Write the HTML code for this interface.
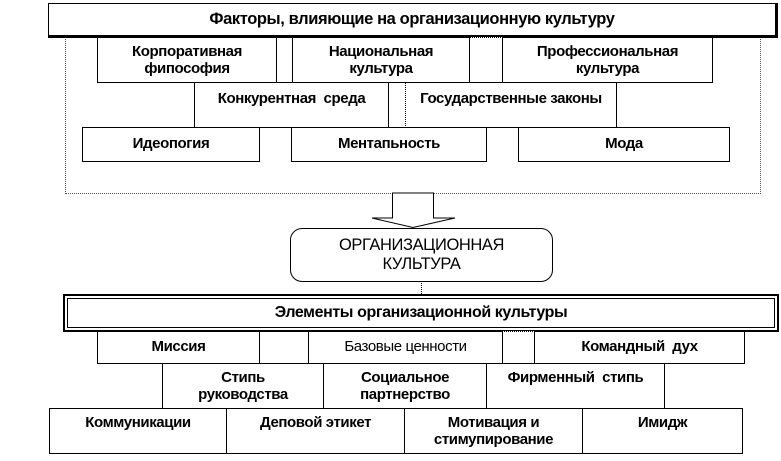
<!DOCTYPE html>
<html><head><meta charset="utf-8"><style>
html,body{margin:0;padding:0;background:#fff;}
body{width:781px;height:461px;position:relative;overflow:hidden;font-family:"Liberation Sans",Arial,sans-serif;font-weight:bold;color:#000;}
.b{position:absolute;box-sizing:border-box;border:1px solid #000;background:#fff;text-align:center;font-size:15px;line-height:17px;letter-spacing:-0.4px;white-space:nowrap;}
.d{border:1px dotted #000;}
</style></head><body>
<div class="b d" style="left:65px;top:36px;width:696px;height:158px;background:transparent;border:1px dotted #555"></div>
<div class="b" style="left:48px;top:3px;width:730px;height:35px;border-right:3px solid #000;border-bottom:3px solid #000;padding-top:7px;font-size:16.5px">Факторы, влияющие на организационную культуру</div>

<div class="b" style="left:276px;top:37px;width:17px;height:46px"></div>
<div class="b d" style="left:469px;top:37px;width:34px;height:46px"></div>
<div class="b" style="left:97px;top:37px;width:180px;height:46px;padding-top:5px">Корпоративная<br>фипософия</div>
<div class="b" style="left:292px;top:37px;width:178px;height:46px;padding-top:5px">Национальная<br>культура</div>
<div class="b" style="left:502px;top:37px;width:211px;height:46px;padding-top:5px">Профессиональная<br>культура</div>

<div class="b" style="left:388px;top:82px;width:18px;height:46px"></div>
<div class="b" style="left:194px;top:82px;width:195px;height:46px;padding-top:7px">Конкурентная&nbsp; среда</div>
<div class="b" style="left:405px;top:82px;width:212px;height:46px;padding-top:7px;border-left:1px dotted #000">Государственные законы</div>

<div class="b" style="left:82px;top:127px;width:178px;height:35px;padding-top:7px">Идеопогия</div>
<div class="b" style="left:291px;top:127px;width:196px;height:35px;padding-top:7px">Ментапьность</div>
<div class="b" style="left:518px;top:127px;width:212px;height:35px;padding-top:7px">Мода</div>

<svg style="position:absolute;left:0;top:0" width="781" height="461">
<polygon points="392.5,193 433.5,193 433.5,218 455,218 413,227.5 372,218 392.5,218" fill="#fff" stroke="#000" stroke-width="1"/>
<line x1="421.5" y1="281" x2="421.5" y2="295" stroke="#000" stroke-dasharray="1,1"/>
</svg>
<div class="b" style="left:290px;top:228px;width:263px;height:54px;border-radius:12px;border-width:1.5px;font-weight:normal;font-size:16.5px;line-height:19px;padding-top:7px">ОРГАНИЗАЦИОННАЯ<br>КУЛЬТУРА</div>

<div class="b" style="left:63px;top:294px;width:716px;height:38px;border:2px solid #000"></div>
<div class="b" style="left:67px;top:298px;width:708px;height:30px;padding-top:5px;font-size:16px">Элементы организационной культуры</div>

<div class="b" style="left:259px;top:331px;width:50px;height:33px"></div>
<div class="b d" style="left:502px;top:331px;width:33px;height:33px"></div>
<div class="b" style="left:97px;top:331px;width:163px;height:33px;padding-top:6px">Миссия</div>
<div class="b" style="left:308px;top:331px;width:195px;height:33px;padding-top:6px;font-weight:normal">Базовые ценности</div>
<div class="b" style="left:534px;top:331px;width:211px;height:33px;padding-top:6px">Командный&nbsp; дух</div>

<div class="b" style="left:162px;top:363px;width:162px;height:46px;padding-top:5px">Стипь<br>руководства</div>
<div class="b" style="left:323px;top:363px;width:164px;height:46px;padding-top:5px">Социальное<br>партнерство</div>
<div class="b" style="left:486px;top:363px;width:179px;height:46px;padding-top:5px">Фирменный&nbsp; стипь</div>

<div class="b" style="left:49px;top:408px;width:178px;height:46px;padding-top:5px">Коммуникации</div>
<div class="b" style="left:226px;top:408px;width:179px;height:46px;padding-top:5px">Деповой этикет</div>
<div class="b" style="left:404px;top:408px;width:179px;height:46px;padding-top:5px">Мотивация и<br>стимупирование</div>
<div class="b" style="left:582px;top:408px;width:161px;height:46px;padding-top:5px">Имидж</div>
</body></html>
